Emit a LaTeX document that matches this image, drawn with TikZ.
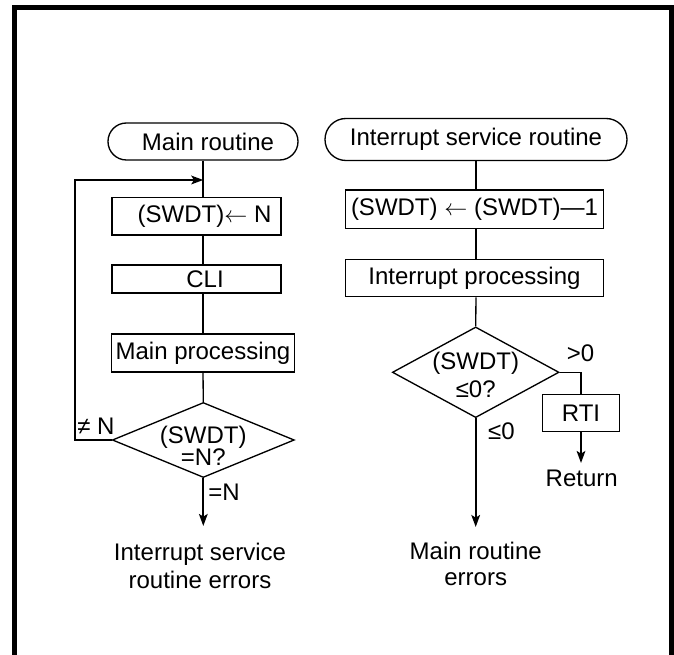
\documentclass[tikz,border=0pt]{standalone}
\usepackage{fontspec}
\setmainfont{Liberation Sans}
\usetikzlibrary{shapes.geometric,arrows.meta}
\begin{document}
\begin{tikzpicture}[x=0.75pt,y=-0.75pt,
  every node/.style={font=\fontsize{18}{19.5}\selectfont,inner sep=0pt},
  box/.style={draw,line width=1pt,rectangle,anchor=center},
  term/.style={draw,line width=1pt,rectangle,anchor=center},
  dec/.style={draw,line width=1pt,diamond,anchor=center},
  txt/.style={anchor=center,align=center},
  conn/.style={line width=1pt},
  arr/.style={line width=1.5pt,-{Stealth[length=9pt,width=6.5pt,inset=2pt]}}]
\useasboundingbox (0,0) rectangle (674,655);
% frame
\draw[line width=3.75pt,line join=miter] (14.5,670) -- (14.5,7.5) -- (671,7.5) -- (671,670);
% left column
\node[term,minimum width=142.5pt,minimum height=27.75pt,rounded corners=13.8pt] (mr) at (203,141.5) {\hspace*{7.5pt}Main routine};
\node[box,minimum width=126.75pt,minimum height=28pt] (b1) at (196.5,216.4) {\hspace*{12pt}(SWDT)$\leftarrow$ N};
\node[box,minimum width=126.75pt,minimum height=21pt] (cli) at (196.5,279) {\hspace*{12.75pt}CLI};
\node[box,minimum width=137pt,minimum height=28.5pt] (mp) at (203,353) {Main processing};
\node[dec,minimum width=136.5pt,minimum height=56.25pt] (d1) at (203.3,440) {};
\node[txt] (d1a) at (203.3,437) {(SWDT)};
\node[txt] (d1b) at (203.3,457) {=N?};
\coordinate (j1) at (203.3,180);
\coordinate (lc) at (75,180);
\coordinate (e1) at (203.3,526);
\node[txt] (ne) at (96,426) {≠ N};
\node[txt] (eqn) at (224,492) {=N};
\node[txt,font=\fontsize{18}{20.5}\selectfont] (ise) at (200,566) {Interrupt service\\routine errors};
\draw[conn] (mr.south) -- (mr.south |- b1.north);
\draw[conn] (mr.south |- b1.south) -- (mr.south |- cli.north);
\draw[conn] (mr.south |- cli.south) -- (mp.north);
\draw[conn] (mp.south) -- (d1.north);
\draw[arr] (d1.west) -| (lc) -- (j1);
\draw[arr] (d1.south) -- (e1);
% right column
\node[term,minimum width=226.5pt,minimum height=31.5pt,rounded corners=15.7pt] (it) at (476,139.5) {Interrupt service routine};
\node[box,minimum width=193.2pt,minimum height=28.7pt] (r1) at (474.5,209.2) {(SWDT) $\leftarrow$ (SWDT)—1};
\node[box,minimum width=193.2pt,minimum height=28pt] (r2) at (474.5,278) {Interrupt processing};
\node[dec,minimum width=125pt,minimum height=68pt] (d2) at (475.7,372.3) {};
\node[txt] (d2a) at (475.7,363) {(SWDT)};
\node[txt] (d2b) at (475.7,389) {≤0?};
\node[box,minimum width=57.5pt,minimum height=28pt] (rti) at (581,413) {RTI};
\coordinate (e2) at (475.7,527);
\coordinate (e3) at (581,463);
\node[txt] (gt) at (580.5,353) {>0};
\node[txt] (le) at (501.5,431.7) {≤0};
\node[txt] (ret) at (581.7,478.3) {Return};
\node[txt,font=\fontsize{18}{19.5}\selectfont] (mre) at (475.7,564) {Main routine\\errors};
\draw[conn] (it.south) -- (it.south |- r1.north);
\draw[conn] (it.south |- r1.south) -- (it.south |- r2.north);
\draw[conn] (it.south |- r2.south) -- (d2.north);
\draw[conn] (d2.east) -| (rti.north);
\draw[arr] (rti.south) -- (e3);
\draw[arr] (d2.south) -- (e2);
\end{tikzpicture}
\end{document}
